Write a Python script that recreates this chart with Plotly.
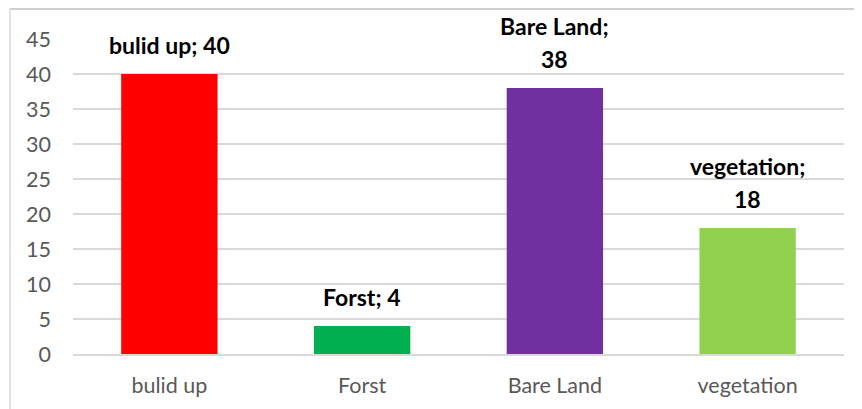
import plotly.graph_objects as go

categories = ["bulid up", "Forst", "Bare Land", "vegetation"]
values = [40, 4, 38, 18]
colors = ["#FF0000", "#00B050", "#7030A0", "#92D050"]
wrap_label = [False, False, True, True]
y_ticks = [0, 5, 10, 15, 20, 25, 30, 35, 40, 45]

FONT = "Lato"
LABEL_SIZE = 23
TICK_SIZE = 21.5

fig = go.Figure()
fig.add_trace(go.Bar(
    x=categories, y=values, marker=dict(color=colors, line=dict(width=0)),
    hoverinfo="skip", showlegend=False,
))

annotations = []
LINE = 33
BASE = 13
lab_font = dict(family=FONT, size=LABEL_SIZE, color="#000000")
for c, v, w in zip(categories, values, wrap_label):
    if w:
        annotations.append(dict(x=c, y=v, text=f"<b>{v}</b>", showarrow=False,
                                yanchor="bottom", yshift=BASE, font=lab_font))
        annotations.append(dict(x=c, y=v, text=f"<b>{c};</b>", showarrow=False,
                                yanchor="bottom", yshift=BASE + LINE, font=lab_font))
    else:
        annotations.append(dict(x=c, y=v, text=f"<b>{c}; {v}</b>", showarrow=False,
                                yanchor="bottom", yshift=BASE, font=lab_font))

# chart border (top and left visible)
shapes = [
    dict(type="line", xref="paper", yref="paper", x0=-0.0817, x1=1.05,
         y0=1.0952, y1=1.0952, line=dict(color="#BFBFBF", width=1.5)),
    dict(type="line", xref="paper", yref="paper", x0=-0.0817, x1=-0.0817,
         y0=1.0952, y1=-0.25, line=dict(color="#D9D9D9", width=1.5)),
]

fig.update_layout(
    width=862, height=409,
    margin=dict(l=65, r=26, t=31, b=63),
    paper_bgcolor="white", plot_bgcolor="white",
    bargap=0.5,
    font=dict(family=FONT, size=TICK_SIZE, color="#595959"),
    annotations=annotations,
    shapes=shapes,
    xaxis=dict(showgrid=False, showline=True, linecolor="#D9D9D9", linewidth=1.5,
               ticks="", tickfont=dict(family=FONT, size=TICK_SIZE, color="#595959"),
               ticklabelstandoff=11, automargin=False),
    yaxis=dict(range=[0, 45], tickvals=y_ticks, showgrid=True, gridcolor="#D9D9D9",
               gridwidth=1.5, zeroline=False, showline=False, ticks="",
               tickfont=dict(family=FONT, size=TICK_SIZE, color="#595959"),
               ticklabelstandoff=21, automargin=False),
)

fig.write_html("out.html")
